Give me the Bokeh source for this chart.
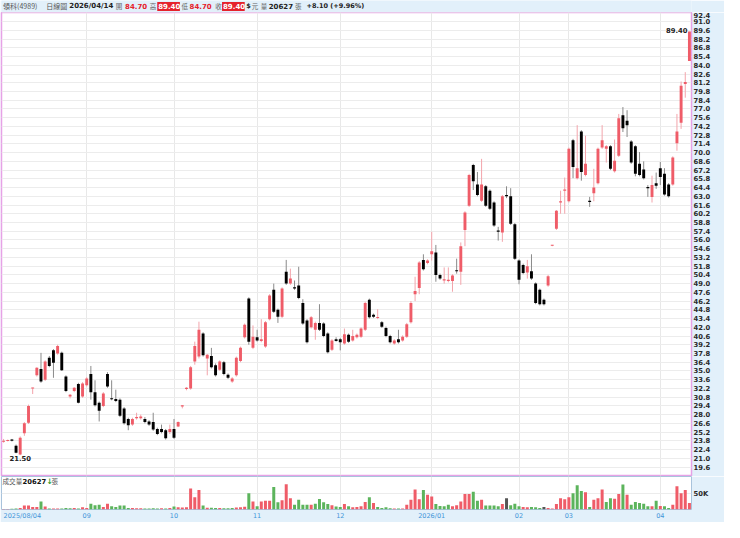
import pandas as pd
from bokeh.plotting import figure
from bokeh.layouts import column
from bokeh.models import ColumnDataSource, Range1d, FixedTicker, Label, NumeralTickFormatter
from bokeh.embed import file_html
from bokeh.resources import INLINE
from bokeh.core.properties import value

# ---------------- data ----------------
opens = [23.7, 23.8, 24.0, 23.0, 21.6, 25.0, 26.7, 32.2, 34.3, 35.3,
         33.6, 37.1, 38.3, 37.8, 37.9, 34.1, 30.9, 31.8, 32.9, 30.9,
         32.7, 34.5, 31.6, 29.9, 29.4, 34.5, 30.6, 30.5, 30.4, 29.0,
         27.3, 26.4, 27.4, 27.4, 27.3, 26.9, 26.8, 25.7, 25.7, 25.5,
         25.2, 25.7, 26.1, 29.3, 32.1, 32.2, 36.5, 37.3, 41.0, 37.0,
         37.4, 35.9, 35.2, 36.4, 34.4, 33.3, 34.3, 36.6, 40.4, 46.6,
         38.7, 40.4, 39.8, 38.9, 43.3, 48.0, 44.8, 43.7, 50.9, 49.0,
         48.4, 48.7, 45.9, 43.1, 42.0, 41.6, 42.7, 42.6, 41.0, 38.4,
         40.1, 40.1, 39.4, 40.8, 39.9, 40.4, 40.5, 41.6, 46.4, 44.0,
         43.5, 42.8, 41.9, 40.6, 39.4, 40.1, 39.9, 40.5, 42.8, 47.3,
         48.3, 52.8, 52.3, 53.7, 54.0, 50.4, 49.5, 49.4, 49.4, 51.1,
         50.9, 57.6, 61.5, 68.0, 64.9, 62.3, 64.6, 63.9, 62.0, 57.5,
         57.2, 63.2, 63.0, 58.5, 52.7, 52.0, 50.8, 51.0, 49.0, 48.0,
         46.4, 48.7, 55.1, 57.8, 62.0, 63.9, 62.2, 72.0, 65.9, 73.4,
         66.4, 62.3, 63.5, 65.1, 70.8, 70.6, 71.0, 67.0, 69.5, 76.0,
         75.1, 71.8, 71.0, 68.2, 67.3, 64.5, 62.9, 65.1, 67.5, 66.6,
         64.9, 64.9, 71.5, 74.8, 81.0, 84.7]
highs = [24.1, 24.0, 24.1, 23.2, 24.5, 26.8, 29.6, 32.3, 35.6, 37.9,
         36.7, 37.4, 38.5, 39.2, 38.1, 34.3, 31.3, 32.4, 33.1, 33.2,
         34.0, 35.8, 33.5, 30.1, 31.6, 34.8, 33.5, 32.0, 30.6, 29.2,
         27.5, 27.5, 28.3, 28.0, 27.6, 27.1, 28.3, 25.9, 26.4, 25.7,
         26.4, 27.3, 26.9, 29.5, 32.4, 35.8, 39.7, 42.9, 41.2, 37.7,
         38.7, 36.2, 36.7, 36.6, 34.6, 34.0, 37.3, 38.9, 42.6, 46.8,
         42.3, 41.6, 43.3, 43.0, 47.3, 49.0, 45.0, 48.4, 52.8, 51.4,
         49.5, 51.7, 46.5, 43.3, 43.8, 42.9, 45.7, 42.8, 41.2, 40.1,
         40.4, 40.3, 41.8, 41.0, 41.6, 41.0, 42.0, 46.1, 46.6, 44.2,
         44.9, 43.0, 42.1, 40.8, 40.1, 41.6, 40.7, 42.7, 46.2, 50.1,
         52.6, 53.7, 52.9, 57.3, 55.2, 50.6, 51.6, 51.6, 50.5, 53.0,
         55.6, 60.6, 66.6, 68.2, 66.9, 69.0, 64.8, 64.1, 62.2, 58.1,
         63.2, 64.6, 64.3, 58.7, 52.9, 52.2, 52.8, 53.7, 49.2, 48.2,
         46.6, 50.4, 55.2, 60.8, 63.9, 66.0, 70.8, 72.2, 74.4, 73.6,
         72.7, 62.9, 67.4, 70.8, 74.4, 71.2, 71.2, 72.1, 76.2, 77.3,
         76.8, 72.0, 71.2, 70.1, 68.6, 64.8, 66.3, 66.8, 68.5, 67.5,
         65.1, 69.4, 76.2, 81.4, 82.9, 89.4]
lows = [23.5, 23.7, 23.7, 21.8, 21.5, 24.6, 26.5, 31.3, 34.1, 33.1,
        33.4, 35.6, 33.9, 37.6, 35.0, 31.6, 30.6, 31.6, 29.8, 30.7,
        32.5, 30.4, 29.3, 26.9, 29.2, 32.3, 30.3, 30.0, 27.6, 26.4,
        25.5, 26.2, 27.2, 27.2, 26.6, 26.2, 25.4, 24.7, 25.0, 24.0,
        24.9, 24.1, 26.0, 29.0, 31.9, 32.0, 36.0, 37.0, 37.3, 34.3,
        35.4, 34.1, 35.0, 34.3, 33.7, 33.1, 34.1, 36.4, 40.2, 39.2,
        38.5, 39.7, 39.6, 38.7, 43.1, 44.3, 42.7, 43.5, 48.8, 48.8,
        48.0, 46.5, 42.4, 39.4, 41.8, 40.0, 41.4, 40.4, 37.8, 38.2,
        39.7, 38.3, 39.2, 39.5, 39.7, 40.2, 40.3, 41.4, 43.4, 43.5,
        43.3, 41.9, 40.4, 39.4, 39.2, 39.4, 39.7, 40.3, 42.6, 46.2,
        47.3, 51.1, 52.1, 52.7, 49.3, 49.6, 49.0, 49.2, 47.7, 50.6,
        48.8, 55.0, 61.3, 64.0, 63.0, 62.1, 61.3, 60.8, 58.1, 55.9,
        55.7, 62.7, 58.4, 52.8, 48.9, 50.5, 49.8, 49.6, 45.7, 45.5,
        45.5, 48.5, 55.0, 57.6, 60.2, 60.2, 62.0, 65.9, 65.7, 65.5,
        66.2, 61.3, 62.2, 64.9, 70.6, 68.4, 67.2, 66.8, 69.3, 73.3,
        72.5, 68.2, 66.2, 66.2, 65.7, 62.9, 62.0, 64.2, 64.8, 63.1,
        62.8, 64.7, 70.3, 73.8, 78.8, 84.7]
closes = [23.8, 23.9, 23.8, 21.9, 24.3, 26.6, 29.4, 32.3, 35.5, 33.3,
          36.5, 35.8, 36.3, 39.0, 35.1, 31.8, 31.2, 32.3, 29.9, 33.0,
          33.8, 31.6, 29.5, 28.6, 31.4, 32.5, 30.5, 30.2, 27.8, 26.6,
          26.3, 27.3, 27.6, 27.7, 26.8, 26.4, 25.6, 24.9, 25.2, 24.2,
          25.7, 24.3, 26.8, 29.5, 32.3, 35.6, 39.0, 41.6, 37.5, 37.6,
          35.6, 34.3, 36.5, 34.5, 33.9, 33.8, 37.1, 38.7, 42.4, 39.7,
          40.5, 39.9, 40.1, 42.8, 47.1, 44.5, 43.7, 48.2, 49.0, 49.8,
          48.2, 46.7, 42.6, 39.6, 43.6, 42.7, 41.6, 40.6, 38.0, 39.9,
          39.8, 39.6, 40.9, 39.7, 40.6, 40.8, 41.8, 45.9, 43.6, 43.7,
          43.6, 42.1, 40.6, 39.6, 39.9, 39.6, 40.5, 42.5, 45.9, 47.8,
          52.4, 51.3, 52.7, 54.2, 50.4, 49.8, 49.7, 49.6, 50.3, 51.0,
          55.0, 60.4, 66.4, 65.4, 63.2, 64.9, 61.5, 61.0, 58.3, 57.3,
          63.0, 63.0, 58.6, 53.0, 49.6, 50.7, 51.8, 49.8, 45.9, 45.7,
          45.7, 50.2, 55.2, 60.7, 62.2, 64.1, 70.6, 67.7, 67.5, 66.9,
          68.2, 62.1, 64.4, 70.6, 72.0, 71.0, 67.4, 68.7, 75.5, 73.9,
          74.4, 68.4, 66.6, 66.4, 65.9, 64.3, 64.8, 64.7, 66.1, 63.3,
          63.0, 69.2, 73.4, 80.7, 81.3, 89.4]
volumes = [2000, 1500, 2500, 3000, 5200, 12500, 12500, 8300, 8300, 26000,
           9400, 3100, 3100, 3100, 3100, 5200, 4200, 5200, 3100, 7300,
           5200, 18700, 13500, 15600, 8300, 18700, 10400, 8300, 12500, 12500,
           5200, 5200, 4200, 4200, 3500, 3100, 4200, 3500, 4200, 3500,
           5200, 9400, 7300, 6200, 7300, 67700, 39600, 62500, 12500, 6000,
           5500, 5000, 4500, 4000, 4000, 4500, 6500, 7500, 8500, 52000,
           26000, 10400, 26000, 28000, 28000, 72000, 23000, 30000, 81000, 36500,
           15600, 31000, 15600, 15600, 15600, 18700, 34000, 23000, 17700, 13500,
           9400, 8300, 17700, 10400, 7300, 8300, 10400, 24000, 39600, 20800,
           8300, 5200, 7300, 4200, 3100, 3100, 3100, 15600, 31000, 64600,
           33000, 62500, 47000, 41700, 17700, 11500, 10400, 15600, 10400, 13500,
           26000, 50000, 50000, 57300, 28000, 31000, 12500, 12500, 12500, 10400,
           17700, 36500, 13500, 18700, 10400, 8300, 7300, 8300, 7300, 5200,
           8300, 5200, 3100, 17700, 36500, 33000, 39600, 52000, 78000, 59400,
           55200, 8300, 31000, 36500, 64600, 24000, 36500, 34400, 50000, 80200,
           47000, 15600, 24000, 20800, 18700, 10400, 10400, 28000, 11500, 10400,
           5200, 15600, 75000, 52000, 62500, 20627]
holidays = ["2025-09-29", "2025-10-06", "2025-10-10", "2025-10-24", "2025-12-25",
            "2026-01-01", "2026-02-12", "2026-02-13", "2026-02-16", "2026-02-17",
            "2026-02-18", "2026-02-19", "2026-02-20", "2026-02-27", "2026-04-03",
            "2026-04-06"]
header_parts = ["領科(4989)", "日線圖", "2026/04/14", "開", "84.70", "高", "89.40",
                "低", "84.70", "收", "89.40", "$", "元", "量", "20627", "張", "+8.10 (+9.96%)"]
vol_unit = ["成交量", "20627", "↓", "張"]

# ---------------- derived ----------------
n = len(closes)
all_days = pd.bdate_range("2025-08-04", "2026-04-14")
days = [d for d in all_days if d.strftime("%Y-%m-%d") not in holidays][:n]
idx = list(range(n))

month_idx, month_lab = [], []
for i, d in enumerate(days):
    if i == 0 or d.month != days[i - 1].month:
        month_idx.append(i)
        if i == 0:
            month_lab.append(d.strftime("%Y/%m/%d"))
        elif d.month == 1:
            month_lab.append(d.strftime("%Y/%m"))
        else:
            month_lab.append(d.strftime("%m"))

RED, RED_WICK = "#ef5c68", "#f3a4ab"
BLACK, BLACK_WICK = "#000000", "#8a8a8a"
GREEN, GRAY = "#5cb45c", "#555555"
BAND = "#e2f0fa"
PINK = "#e6a2e6"

body_c, wick_c, tops, bots, vcol = [], [], [], [], []
for i in idx:
    o, c = opens[i], closes[i]
    up = c > o
    body_c.append(RED if up else BLACK)
    wick_c.append(RED_WICK if up else BLACK_WICK)
    t, b = max(o, c), min(o, c)
    if t - b < 0.16:
        m = (t + b) / 2
        t, b = m + 0.08, m - 0.08
    tops.append(t)
    bots.append(b)
    prev = closes[i - 1] if i > 0 else opens[0]
    vcol.append(RED if c > prev else (GREEN if c < prev else GRAY))

W, AX = 724, 33
NUMF = "DejaVu Sans"
CJKF = "Noto Sans CJK TC"

# ---------------- header ----------------
hdr = figure(width=W, height=12, x_range=Range1d(0, W), y_range=Range1d(0, 12),
             toolbar_location=None, output_backend="svg", x_axis_type=None, y_axis_type=None,
             min_border=0)
hdr.grid.visible = False
hdr.outline_line_color = None
hdr.background_fill_color = BAND
hdr.border_fill_color = BAND
hdr.quad(left=[163.4, 231.4], right=[187.2, 255.2], bottom=[1.6, 1.6], top=[10.6, 10.6],
         fill_color="#e5222c", line_color=None)
hx = [1.7, 47.0, 71.1, 120.0, 129.6, 155.6, 164.4, 189.0, 197.3, 224.3, 232.4, 256.8,
      262.6, 272.0, 280.4, 308.0, 320.0]
hcol = ["#555555", "#555555", "#222222", "#666666", "#e5222c", "#666666", "#ffffff",
        "#666666", "#e5222c", "#666666", "#ffffff", "#222222", "#666666", "#666666",
        "#222222", "#666666", "#222222"]
hfont = [CJKF, CJKF, NUMF, CJKF, NUMF, CJKF, NUMF, CJKF, NUMF, CJKF, NUMF, NUMF,
         CJKF, CJKF, NUMF, CJKF, NUMF]
hstyle = ["normal", "normal", "bold", "normal", "bold", "normal", "bold", "normal",
          "bold", "normal", "bold", "bold", "normal", "normal", "bold", "normal", "bold"]
hsize = ["7px", "7px", "7px", "6.5px", "7px", "6.5px", "7px", "6.5px", "7px",
         "6.5px", "7px", "6.5px", "6.5px", "6.5px", "7px", "6.5px", "6.5px"]
hsrc = ColumnDataSource(dict(x=hx, y=[6.1] * len(hx), text=header_parts, color=hcol,
                             font=hfont, style=hstyle, size=hsize))
hdr.text(x="x", y="y", text="text", source=hsrc, text_color="color", text_font="font",
         text_font_style="style", text_font_size="size", text_baseline="middle",
         text_align="left")

# ---------------- price panel ----------------
p = figure(width=W, height=464, x_range=Range1d(-0.5, n - 0.5), y_range=Range1d(18.24, 92.46),
           toolbar_location=None, output_backend="svg", y_axis_location="right",
           x_axis_location=None)
p.min_border_left = 1
p.min_border_right = AX
p.min_border_top = 0
p.min_border_bottom = 1
p.background_fill_color = "#ffffff"
p.border_fill_color = BAND
p.outline_line_color = PINK
p.outline_line_width = 1.5

yticks = [round(19.6 + 1.4 * k, 1) for k in range(53)]
p.yaxis.ticker = FixedTicker(ticks=yticks)
p.yaxis.formatter = NumeralTickFormatter(format="0.0")
p.ygrid.ticker = FixedTicker(ticks=yticks)
p.ygrid.grid_line_color = "#ececec"
p.xgrid.ticker = FixedTicker(ticks=month_idx[1:])
p.xgrid.grid_line_color = "#e8e8e8"


def style_axis(ax):
    ax.axis_line_color = None
    ax.major_tick_line_color = None
    ax.minor_tick_line_color = None
    ax.major_tick_out = 0
    ax.major_tick_in = 0
    ax.minor_tick_out = 0
    ax.major_label_text_font = NUMF
    ax.major_label_text_font_style = "bold"
    ax.major_label_text_font_size = "6.8px"
    ax.major_label_text_color = "#2a2a2a"
    ax.major_label_standoff = 2


style_axis(p.yaxis[0])

src = ColumnDataSource(dict(x=idx, o=opens, h=highs, l=lows, c=closes, top=tops, bot=bots,
                            body=body_c, wick=wick_c))
p.segment(x0="x", y0="h", x1="x", y1="l", line_color="wick", line_width=1, source=src)
p.vbar(x="x", top="top", bottom="bot", width=0.7, fill_color="body", line_color=None, source=src)

lo_i = lows.index(min(lows))
hi_i = highs.index(max(highs))
p.text(x=[lo_i], y=[lows[lo_i]], text=[f"{lows[lo_i]:.2f}"], text_align="center",
       text_baseline="top", y_offset=1, text_font=value(NUMF), text_font_style="bold",
       text_font_size="6.8px", text_color="#222222")
p.text(x=[hi_i], y=[highs[hi_i]], text=[f"{highs[hi_i]:.2f}"], text_align="right",
       text_baseline="alphabetic", x_offset=-2, y_offset=-1, text_font=value(NUMF),
       text_font_style="bold", text_font_size="6.8px", text_color="#222222")

# ---------------- volume panel ----------------
VMAX = 106000
v = figure(width=W, height=46, x_range=p.x_range, y_range=Range1d(0, VMAX),
           toolbar_location=None, output_backend="svg", y_axis_location="right")
v.min_border_left = 1
v.min_border_right = AX
v.min_border_top = 0
v.min_border_bottom = 11
v.background_fill_color = "#ffffff"
v.border_fill_color = BAND
v.outline_line_color = "#a9c3dc"
v.outline_line_width = 1

v.yaxis.ticker = FixedTicker(ticks=[50000])
v.yaxis.major_label_overrides = {50000: "50K"}
style_axis(v.yaxis[0])
v.ygrid.ticker = FixedTicker(ticks=[50000])
v.ygrid.grid_line_color = "#ececec"
v.xgrid.ticker = FixedTicker(ticks=month_idx[1:])
v.xgrid.grid_line_color = "#e8e8e8"

# the first date label starts at its tick (it is centred half a label to the right)
FIRST_LABEL_SHIFT = 4.5
tick_pos = [i + (FIRST_LABEL_SHIFT if k == 0 else 0) for k, i in enumerate(month_idx)]
xa = v.xaxis[0]
xa.ticker = FixedTicker(ticks=tick_pos)
xa.major_label_overrides = {t: lab for t, lab in zip(tick_pos, month_lab)}
xa.axis_line_color = None
xa.major_tick_line_color = None
xa.minor_tick_line_color = None
xa.major_tick_out = 0
xa.major_tick_in = 0
xa.minor_tick_out = 0
xa.major_label_text_font = NUMF
xa.major_label_text_font_size = "6.5px"
xa.major_label_text_color = "#3f95d9"
xa.major_label_standoff = 2

vsrc = ColumnDataSource(dict(x=idx, vol=volumes, color=vcol))
v.vbar(x="x", top="vol", bottom=0, width=0.72, fill_color="color", line_color=None, source=vsrc)

# volume caption
cap_x = [1, 21, 45, 50]
cap_col = ["#555555", "#111111", "#2a9d2a", "#555555"]
cap_font = [CJKF, NUMF, NUMF, CJKF]
cap_style = ["normal", "bold", "bold", "normal"]
cap_size = ["6.6px", "6.8px", "7.5px", "6.6px"]
for tx, off, col, fnt, sty, sz in zip(vol_unit, cap_x, cap_col, cap_font, cap_style, cap_size):
    v.add_layout(Label(x=-0.5, y=0.86 * VMAX, x_offset=off, text=tx, text_baseline="middle",
                       text_align="left", text_font=fnt, text_font_style=sty,
                       text_font_size=sz, text_color=col))

layout = column(hdr, p, v, spacing=0)
open("out.html", "w").write(file_html(layout, INLINE))
